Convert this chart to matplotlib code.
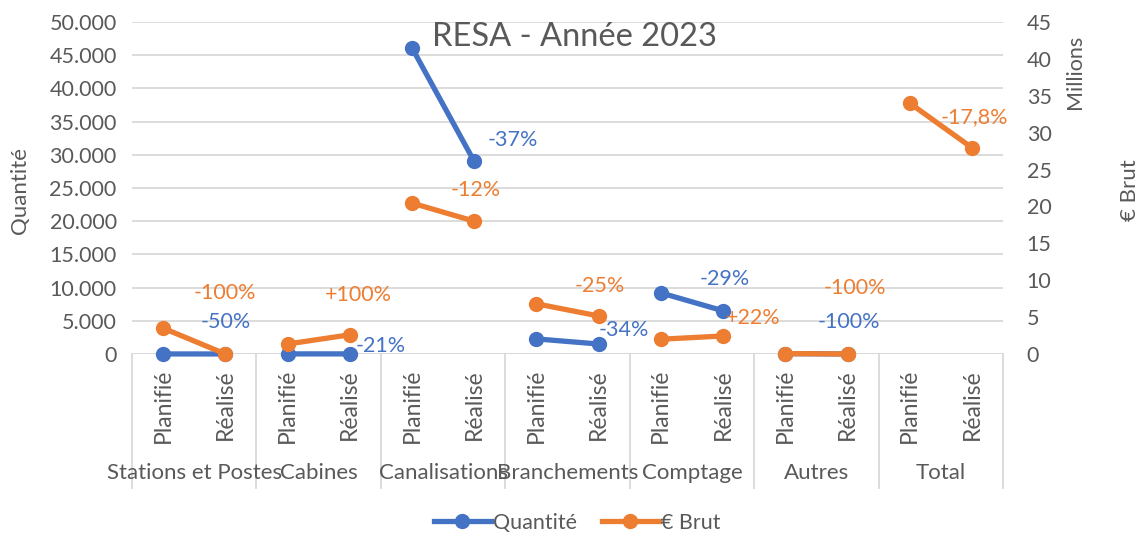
import matplotlib
matplotlib.use("Agg")
import numpy as np
import matplotlib.pyplot as plt
from matplotlib.lines import Line2D
from matplotlib.ticker import FuncFormatter, MultipleLocator
import matplotlib.transforms as mtransforms

plt.rcParams['font.family'] = ['Lato', 'DejaVu Sans']

# data
groups = ['Stations et Postes', 'Cabines', 'Canalisations', 'Branchements',
          'Comptage', 'Autres', 'Total']
sub_labels = ['Planifié', 'Réalisé']
qte_plan = [4, 14, 46100, 2270, 9200, 50, np.nan]
qte_real = [2, 11, 29000, 1500, 6500, 0, np.nan]
brut_plan = [3.5, 1.35, 20.45, 6.8, 2.0, 0.05, 34.0]     # millions
brut_real = [0.0, 2.6, 18.0, 5.15, 2.44, 0.0, 27.95]
qte_pct = ['-50%', '-21%', '-37%', '-34%', '-29%', '-100%', None]
brut_pct = ['-100%', '+100%', '-12%', '-25%', '+22%', '-100%', '-17,8%']

# label offsets (pixels) from the "Réalisé" point
qte_off = [(0, 32), (31, 8), (39, 21), (25, 14), (2, 32), (1, 32), None]
brut_off = [(0, 61), (9, 40), (1, 31), (1, 30), (30, 18), (7, 66), (2, 31)]

BLUE = '#4472C4'
ORANGE = '#ED7D31'
GREY = '#595959'
GRID = '#D9D9D9'
FS = 15.5

fig = plt.figure(figsize=(11.47, 5.36), dpi=100)
ax = fig.add_axes([0.1151, 0.3396, 0.7594, 0.6194])
ax2 = ax.twinx()

for g in range(len(groups)):
    x = [2 * g, 2 * g + 1]
    if not np.isnan(qte_plan[g]):
        ax.plot(x, [qte_plan[g], qte_real[g]], color=BLUE, lw=3.8,
                marker='o', ms=10, clip_on=False, zorder=3)
        ax.annotate(qte_pct[g], (x[1], qte_real[g]), xytext=qte_off[g],
                    textcoords='offset pixels', ha='center', va='center',
                    color=BLUE, fontsize=FS, annotation_clip=False)
    ax2.plot(x, [brut_plan[g], brut_real[g]], color=ORANGE, lw=3.8,
             marker='o', ms=10, clip_on=False, zorder=3)
    ax2.annotate(brut_pct[g], (x[1], brut_real[g]), xytext=brut_off[g],
                 textcoords='offset pixels', ha='center', va='center',
                 color=ORANGE, fontsize=FS, annotation_clip=False)

ax.set_xlim(-0.5, 2 * len(groups) - 0.5)
ax.set_ylim(0, 50000)
ax2.set_ylim(0, 45)
ax.yaxis.set_major_locator(MultipleLocator(5000))
ax2.yaxis.set_major_locator(MultipleLocator(5))
ax.yaxis.set_major_formatter(FuncFormatter(lambda v, p: f"{v:,.0f}".replace(",", ".")))
ax.grid(axis='y', color=GRID, lw=1.3)
ax.set_axisbelow(True)

for a in (ax, ax2):
    for s in a.spines.values():
        s.set_visible(False)
    a.tick_params(length=0, labelsize=FS, labelcolor=GREY)
ax.tick_params(axis='y', pad=11)
ax2.tick_params(axis='y', pad=17)
ax.set_xticks([])

ax.axhline(0, color=GRID, lw=1.3, zorder=1)

# category axis
trans = mtransforms.blended_transform_factory(ax.transData, ax.transAxes)
for g in range(len(groups) + 1):
    ax.plot([2 * g - 0.5] * 2, [0, -0.404], transform=trans, color=GRID,
            lw=1.3, clip_on=False)
for g, name in enumerate(groups):
    for k, sl in enumerate(sub_labels):
        ax.text(2 * g + k, -0.045, sl, transform=trans, rotation=90,
                ha='center', va='top', fontsize=16.5, color=GREY)
    ax.text(2 * g + 0.5, -0.358, name, transform=trans, ha='center',
            va='center', fontsize=FS + 0.5, color=GREY)

fig.text(20 / 1147, 1 - 190 / 536, 'Quantité', rotation=90, ha='center',
         va='center', fontsize=16, color=GREY)
fig.text(1075 / 1147, 1 - 72 / 536, 'Millions', rotation=90, ha='center',
         va='center', fontsize=FS, color=GREY)
fig.text(1130 / 1147, 1 - 190 / 536, '€ Brut', rotation=90, ha='center',
         va='center', fontsize=16, color=GREY)
fig.text(575 / 1147, 1 - 37 / 536, 'RESA - Année 2023', ha='center',
         va='center', fontsize=23.5, color=GREY)

handles = [Line2D([], [], color=BLUE, lw=3.8, marker='o', ms=10),
           Line2D([], [], color=ORANGE, lw=3.8, marker='o', ms=10)]
fig.legend(handles, ['Quantité', '€ Brut'], loc='center',
           bbox_to_anchor=(577 / 1147, 1 - 523 / 536), ncol=2, frameon=False,
           fontsize=FS, labelcolor=GREY, handlelength=2.65, handletextpad=0.1,
           columnspacing=1.15)

fig.savefig('out.png', dpi=100)
